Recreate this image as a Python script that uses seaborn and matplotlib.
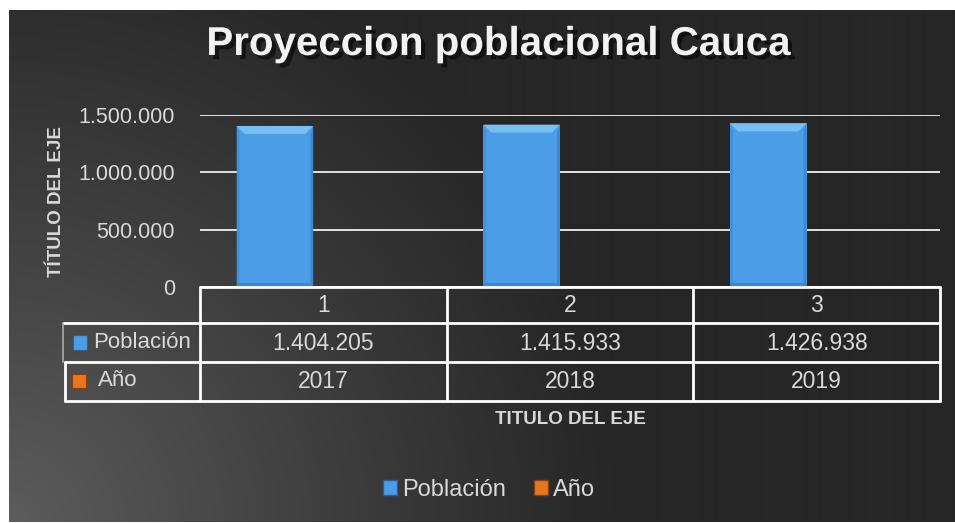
import numpy as np
import pandas as pd
import matplotlib
matplotlib.use('Agg')
import matplotlib.pyplot as plt
import matplotlib.patheffects as pe
import matplotlib.transforms as mtransforms
from matplotlib.patches import Rectangle, Polygon, Patch
import seaborn as sns

# ------------------------------------------------------------
# Datos
# ------------------------------------------------------------
categorias = ['1', '2', '3']
poblacion = [1404205, 1415933, 1426938]
anio = [2017, 2018, 2019]
series = ['Población', 'Año']
titulo = 'Proyeccion poblacional Cauca'
titulo_y = 'TÍTULO DEL EJE'
titulo_x = 'TITULO DEL EJE'
yticks = [0, 500000, 1000000, 1500000]

azul = '#4b9de6'
naranja = '#e8761e'
gris_txt = '#d9d9d9'


def fmt_miles(v):
    return f'{v:,.0f}'.replace(',', '.')


df = pd.DataFrame({
    'cat': categorias * 2,
    'serie': [series[0]] * 3 + [series[1]] * 3,
    'valor': poblacion + anio,
})

sns.set_theme(style='white')
plt.rcParams['font.family'] = ['Liberation Sans', 'DejaVu Sans']

W, H = 955, 523
fig = plt.figure(figsize=(W / 100, H / 100), dpi=100, facecolor='white')

# fondo con degradado (esquina inferior izquierda mas clara)
bg = fig.add_axes([9 / W, 1 / H, 946 / W, 512 / H], zorder=-5)
yy, xx = np.mgrid[0:512, 0:946]
d = np.sqrt(xx ** 2 + (512 - yy) ** 2)
t = np.clip(1 - d / 620, 0, 1) ** 1.1
gris = (38 + (92 - 38) * t) / 255
bg.imshow(np.dstack([gris, gris, gris]), aspect='auto', interpolation='bilinear')
bg.axis('off')

# ejes principales (pixeles: x 200-940, y 115-287)
ax = fig.add_axes([200 / W, 1 - 287 / H, 740 / W, 172 / H])
ax.patch.set_alpha(0)
sns.barplot(data=df, x='cat', y='valor', hue='serie', ax=ax,
            palette={series[0]: azul, series[1]: naranja},
            width=0.785, gap=0.21, saturation=1, legend=False,
            edgecolor='none', zorder=3)
ax.set_xlim(-0.5, 2.5)
ax.set_ylim(0, 1500000)
ax.set_yticks(yticks)
ax.set_yticklabels([fmt_miles(v) for v in yticks], color=gris_txt, fontsize=15.5)
ax.tick_params(axis='y', length=0, pad=18)
ax.set_xticks([])
ax.set_xlabel('')
ax.set_ylabel('')
ax.grid(axis='y', color='#f0f0f0', linewidth=1.3, zorder=1)
ax.grid(axis='x', visible=False)
for s in ax.spines.values():
    s.set_visible(False)

# biselado de las barras azules
dx = 8 * 3 / 740
dy = 8 * 1500000 / 172
for p in ax.containers[0]:
    x0, y0 = p.get_x(), p.get_y()
    x1, y1 = x0 + p.get_width(), y0 + p.get_height()
    ax.add_patch(Polygon([(x0, y1), (x1, y1), (x1 - dx, y1 - dy), (x0 + dx, y1 - dy)],
                         closed=True, facecolor='#78bff3', edgecolor='none', zorder=4))
    ax.add_patch(Polygon([(x0, y0), (x0, y1), (x0 + dx * 0.35, y1 - dy), (x0 + dx * 0.35, y0)],
                         closed=True, facecolor='#4290da', edgecolor='none', zorder=4))
    ax.add_patch(Polygon([(x1, y0), (x1, y1), (x1 - dx * 0.35, y1 - dy), (x1 - dx * 0.35, y0)],
                         closed=True, facecolor='#3d88d2', edgecolor='none', zorder=4))
    ax.add_patch(Rectangle((x0, y0), p.get_width(), dy * 0.5,
                           facecolor='#3f86cc', edgecolor='none', zorder=4))

# capa en pixeles para tabla, titulos y leyenda
ov = fig.add_axes([0, 0, 1, 1], zorder=5)
ov.set_xlim(0, W)
ov.set_ylim(H, 0)
ov.axis('off')
mix = mtransforms.blended_transform_factory(ax.transData, ov.transData)

ov.text(498, 44, titulo, ha='center', va='center', fontsize=29, fontweight='bold',
        color='#f2f2f2',
        path_effects=[pe.SimplePatchShadow(offset=(3, -3), shadow_rgbFace='black', alpha=0.55),
                      pe.Normal()])

ov.text(56, 202, titulo_y, rotation=90, ha='center', va='center', fontsize=13.5,
        fontweight='bold', color=gris_txt)
ov.text(570, 420, titulo_x, ha='center', va='center', fontsize=13.5,
        fontweight='bold', color=gris_txt)

# tabla de datos
lw = 2
ov.plot([-0.5, 2.5], [287, 287], color='white', lw=lw, transform=mix)
for xv in [-0.5, 0.5, 1.5, 2.5]:
    ov.plot([xv, xv], [287, 401], color='white', lw=lw, transform=mix)
ov.plot([63, 940], [323, 323], color='white', lw=lw)
ov.plot([65, 940], [362, 362], color='white', lw=lw)
ov.plot([65, 940], [401, 401], color='white', lw=lw)
ov.plot([65, 65], [362, 401], color='white', lw=lw)
ov.plot([63, 63], [323, 362], color='#aaaaaa', lw=1.2)

for i, c in enumerate(categorias):
    ov.text(i, 305, c, ha='center', va='center', fontsize=16.5, color=gris_txt, transform=mix)
    ov.text(i, 343, fmt_miles(poblacion[i]), ha='center', va='center', fontsize=16.5,
            color=gris_txt, transform=mix)
    ov.text(i, 381, str(anio[i]), ha='center', va='center', fontsize=16.5,
            color=gris_txt, transform=mix)

ov.add_patch(Rectangle((73, 335), 14, 15, facecolor=azul, edgecolor='#2d5f95', lw=0.8))
ov.add_patch(Rectangle((72, 374), 14, 14, facecolor=naranja, edgecolor='#8a4010', lw=0.8))
ov.text(93, 342, series[0], ha='left', va='center', fontsize=16, color=gris_txt)
ov.text(98, 381, series[1], ha='left', va='center', fontsize=16, color=gris_txt)

# leyenda
handles = [Patch(facecolor=azul, edgecolor='#2d5f95'),
           Patch(facecolor=naranja, edgecolor='#8a4010')]
fig.legend(handles, series, loc='center', bbox_to_anchor=(489 / W, 1 - 490 / H),
           ncol=2, frameon=False, fontsize=17, labelcolor=gris_txt,
           handlelength=0.6, handleheight=0.6, handletextpad=0.2, columnspacing=1.2)

fig.savefig('out.png', dpi=100, facecolor='white')
